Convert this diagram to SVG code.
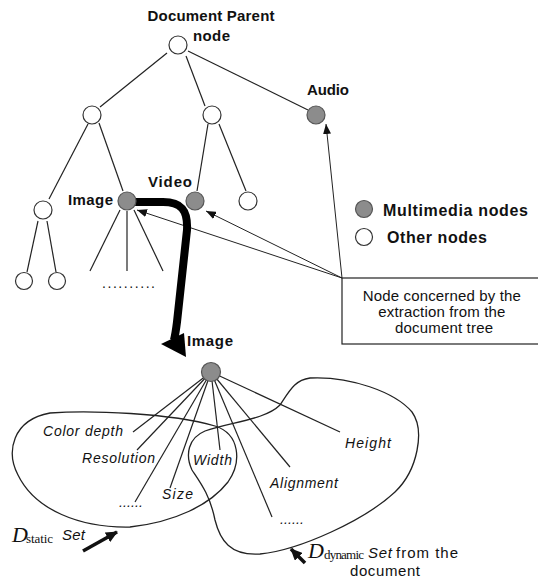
<svg xmlns="http://www.w3.org/2000/svg" width="538" height="581" viewBox="0 0 538 581">
<defs>
<style>
.edge{stroke:#222;stroke-width:1.2;fill:none}
.arr{stroke:#222;stroke-width:1;fill:none;marker-end:url(#ah)}
.blob{stroke:#222;stroke-width:1.3;fill:none}
.white{fill:#fff;stroke:#333;stroke-width:1.2}
.gray{fill:#8c8c8c;stroke:#555;stroke-width:1.2}
.b{font-family:"Liberation Sans",Arial,sans-serif;font-weight:bold;fill:#111}
.r{font-family:"Liberation Sans",Arial,sans-serif;fill:#111}
.i{font-family:"Liberation Sans",Arial,sans-serif;font-style:italic;fill:#111}
.s{font-family:"Liberation Serif","Times New Roman",serif;fill:#111}
</style>
<marker id="ah" viewBox="0 0 10 8" refX="10" refY="4" markerWidth="10" markerHeight="8" markerUnits="userSpaceOnUse" orient="auto">
<path d="M0,0 L10,4 L0,8 Z" fill="#111"/>
</marker>
<marker id="ahb" viewBox="0 0 12 11" refX="11" refY="5.5" markerWidth="12" markerHeight="11" markerUnits="userSpaceOnUse" orient="auto">
<path d="M0,0 L12,5.5 L0,11 Z" fill="#111"/>
</marker>
</defs>

<g id="connectors">
<line class="edge" x1="167" y1="53" x2="100" y2="107"/>
<line class="edge" x1="186" y1="56" x2="205" y2="106"/>
<line class="edge" x1="188" y1="51" x2="308" y2="110"/>
<line class="edge" x1="88" y1="124" x2="49" y2="199"/>
<line class="edge" x1="99" y1="123" x2="123" y2="191"/>
<line class="edge" x1="208" y1="124" x2="197" y2="191"/>
<line class="edge" x1="219" y1="124" x2="246" y2="191"/>
<line class="edge" x1="38" y1="221" x2="27" y2="272"/>
<line class="edge" x1="47" y1="221" x2="56" y2="272"/>
<line class="edge" x1="120" y1="210" x2="90" y2="271"/>
<line class="edge" x1="127" y1="211" x2="127" y2="271"/>
<line class="edge" x1="134" y1="210" x2="163" y2="271"/>
<line class="arr" x1="342" y1="278" x2="326" y2="124"/>
<line class="arr" x1="342" y1="278" x2="137" y2="210"/>
<line class="arr" x1="342" y1="278" x2="206" y2="211"/>
<path d="M133,202 H163 C181,202 188,210 187,230 L177,322 C176,330 175,336 174,340" stroke="#000" stroke-width="8" fill="none"/>
<polygon points="161,344 184,333 186,357" fill="#000"/>
<line class="edge" x1="211" y1="372" x2="133" y2="432"/>
<line class="edge" x1="211" y1="372" x2="137" y2="450"/>
<line class="edge" x1="211" y1="372" x2="135" y2="502"/>
<line class="edge" x1="211" y1="372" x2="170" y2="488"/>
<line class="edge" x1="211" y1="372" x2="220" y2="450"/>
<line class="edge" x1="211" y1="372" x2="272" y2="517"/>
<line class="edge" x1="211" y1="372" x2="290" y2="467"/>
<line class="edge" x1="211" y1="372" x2="340" y2="432"/>
<line x1="83" y1="551" x2="117" y2="532" stroke="#111" stroke-width="3.5" marker-end="url(#ahb)"/>
<line x1="305" y1="563" x2="291" y2="549" stroke="#111" stroke-width="3.5" marker-end="url(#ahb)"/>
</g>

<g id="static-set">
<path class="blob" d="M50,413 C90,410 170,413 215,426 C240,434 242,462 228,482 C210,505 175,522 130,527 C80,528 35,510 18,475 C6,452 12,420 50,413 Z"/>
</g>
<g id="dynamic-set">
<path class="blob" d="M310,378 C350,376 395,392 412,412 C425,430 418,470 395,492 C365,520 300,550 260,554 C230,556 220,540 215,520 C210,495 200,482 192,470 C185,455 188,438 205,431 C230,422 265,420 280,405 C290,390 295,380 310,378 Z"/>
</g>

<g id="root"><circle class="white" cx="178" cy="45" r="9"/>
<text class="b" x="211" y="21" font-size="15" text-anchor="middle" textLength="127">Document Parent</text>
<text class="b" x="193" y="41" font-size="15" textLength="37">node</text></g>
<g id="n1"><circle class="white" cx="92" cy="115" r="9"/></g>
<g id="n2"><circle class="white" cx="212" cy="115" r="9"/></g>
<g id="audio"><circle class="gray" cx="316" cy="115" r="9"/>
<text class="b" x="307" y="95" font-size="15" textLength="42">Audio</text></g>
<g id="c1"><circle class="white" cx="43" cy="210" r="9"/></g>
<g id="image"><circle class="gray" cx="127" cy="201" r="9"/>
<text class="b" x="68" y="205" font-size="15" textLength="45">Image</text></g>
<g id="video"><circle class="gray" cx="195" cy="201" r="9"/>
<text class="b" x="148" y="187" font-size="15" textLength="44">Video</text></g>
<g id="c4"><circle class="white" cx="248" cy="201" r="9"/></g>
<g id="c11"><circle class="white" cx="24" cy="281" r="8.5"/></g>
<g id="c12"><circle class="white" cx="57" cy="281" r="8.5"/></g>
<g id="dots-top"><text class="r" x="102" y="288" font-size="14" textLength="53">..........</text></g>

<g id="legend">
<circle class="gray" cx="364" cy="209" r="8.5"/>
<text class="b" x="383" y="216" font-size="16" textLength="145">Multimedia nodes</text>
<circle class="white" cx="364" cy="237" r="8.5"/>
<text class="b" x="387" y="243" font-size="16" textLength="100">Other nodes</text>
</g>

<g id="note">
<rect x="342" y="278" width="210" height="66" fill="#fff" stroke="#222" stroke-width="1.2"/>
<text class="r" font-size="15" text-anchor="middle">
<tspan x="444" y="301" textLength="158">Node concerned by the</tspan>
<tspan x="444" y="317" textLength="127">extraction from the</tspan>
<tspan x="444" y="333" textLength="98">document tree</tspan>
</text>
</g>

<g id="image2"><circle class="gray" cx="211" cy="372" r="9.5"/>
<text class="b" x="187" y="346" font-size="15" textLength="46">Image</text></g>

<g id="attributes">
<text class="i" x="43" y="436" font-size="14" textLength="80">Color depth</text>
<text class="i" x="82" y="463" font-size="14" textLength="73">Resolution</text>
<text class="i" x="193" y="465" font-size="14" textLength="39">Width</text>
<text class="i" x="162" y="499" font-size="14" textLength="31">Size</text>
<text class="i" x="119" y="507" font-size="14" textLength="24">......</text>
<text class="i" x="345" y="448" font-size="14" textLength="46">Height</text>
<text class="i" x="270" y="488" font-size="14" textLength="68">Alignment</text>
<text class="i" x="280" y="524" font-size="14" textLength="24">......</text>
</g>

<g id="static-label">
<text class="s" x="12" y="542" font-size="22" font-style="italic">D</text>
<text class="s" x="26" y="543" font-size="13" textLength="27">static</text>
<text class="i" x="62" y="540" font-size="15" textLength="23">Set</text>
</g>
<g id="dynamic-label">
<text class="s" x="308" y="558" font-size="22" font-style="italic">D</text>
<text class="s" x="324" y="559" font-size="13" textLength="40">dynamic</text>
<text class="i" x="368" y="558" font-size="15" textLength="24">Set</text>
<text class="r" x="396" y="558" font-size="15" textLength="62">from the</text>
<text class="r" x="350" y="576" font-size="15" textLength="70">document</text>
</g>
</svg>
